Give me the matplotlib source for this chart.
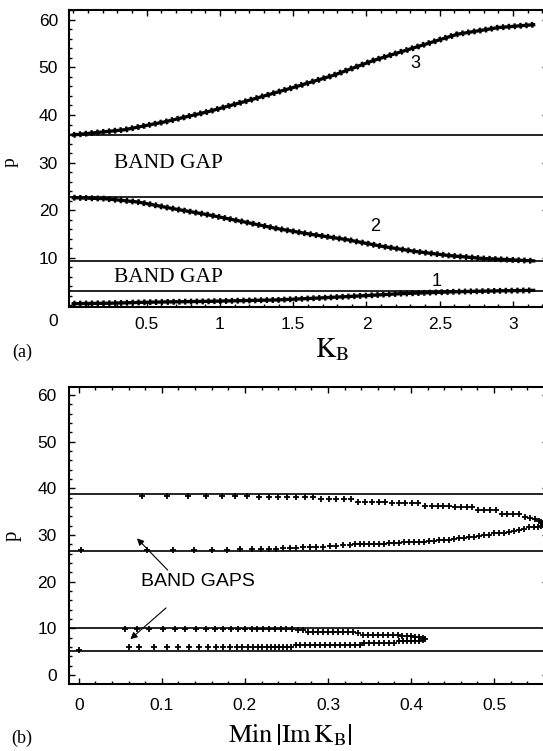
import matplotlib
matplotlib.use("Agg")
import matplotlib.pyplot as plt
from matplotlib.ticker import MultipleLocator

plt.rcParams['mathtext.fontset'] = 'stix'

# ---- (a) band structure p(K_B) ----
k1 = [0.0, 0.26, 0.50, 0.93, 1.40, 1.68, 2.00, 2.23, 2.59, 2.90, 3.14]
p1 = [0.3, 0.4, 0.6, 0.8, 1.1, 1.5, 2.0, 2.4, 2.8, 3.0, 3.1]

k2 = [0.0, 0.21, 0.44, 0.68, 0.92, 1.15, 1.39, 1.62, 1.86, 2.10, 2.33, 2.57, 2.80, 3.14]
p2 = [22.6, 22.4, 21.7, 20.3, 19.0, 17.6, 16.1, 14.9, 13.8, 12.4, 11.3, 10.4, 9.8, 9.3]

k3 = [0.0, 0.35, 0.63, 0.92, 1.20, 1.48, 1.77, 2.05, 2.33, 2.62, 2.90, 3.14]
p3 = [35.8, 36.9, 38.6, 40.7, 43.1, 45.6, 48.3, 51.5, 54.2, 57.0, 58.4, 59.0]

band_edges_a = [35.8, 22.7, 9.3, 3.0]

# ---- (b) Min|Im K_B| inside the gaps ----
# upper gap, upper branch then lower branch
g2_x = [0.076, 0.106, 0.132, 0.153, 0.172, 0.188, 0.203,
        0.217, 0.229, 0.240, 0.251, 0.262, 0.272, 0.282,
        0.292, 0.301, 0.310, 0.319, 0.328,
        0.336, 0.345, 0.353, 0.361, 0.369,
        0.377, 0.385, 0.393, 0.401, 0.409,
        0.417, 0.425, 0.432, 0.439, 0.446,
        0.453, 0.460, 0.467, 0.474,
        0.481, 0.488, 0.495, 0.502,
        0.509, 0.516, 0.523, 0.530,
        0.537, 0.543, 0.549, 0.554, 0.557, 0.559,
        0.559, 0.557, 0.553, 0.548, 0.542, 0.536, 0.530,
        0.524, 0.518, 0.512, 0.506, 0.500,
        0.494, 0.488, 0.482, 0.476, 0.470, 0.464, 0.458,
        0.452, 0.446, 0.440, 0.434, 0.428, 0.422,
        0.416, 0.410, 0.404, 0.398, 0.392, 0.386, 0.380, 0.374,
        0.368, 0.362, 0.356, 0.350, 0.344, 0.338, 0.332,
        0.326, 0.318, 0.310, 0.302, 0.294, 0.286, 0.278, 0.270, 0.262,
        0.254, 0.246, 0.238, 0.229, 0.219, 0.208, 0.194, 0.178, 0.160,
        0.139, 0.113, 0.082, 0.003]
g2_p = [38.4, 38.4, 38.4, 38.4, 38.4, 38.4, 38.4,
        38.1, 38.1, 38.1, 38.1, 38.1, 38.1, 38.1,
        37.7, 37.7, 37.7, 37.7, 37.7,
        37.2, 37.2, 37.2, 37.2, 37.2,
        36.8, 36.8, 36.8, 36.8, 36.8,
        36.3, 36.3, 36.3, 36.3, 36.3,
        36.0, 36.0, 36.0, 36.0,
        35.4, 35.4, 35.4, 35.4,
        34.6, 34.6, 34.6, 34.6,
        33.9, 33.6, 33.4, 33.1, 32.8, 32.5,
        32.2, 31.9, 31.8, 31.8, 31.7, 31.4, 31.1,
        30.9, 30.6, 30.4, 30.4, 30.4,
        30.0, 30.0, 29.8, 29.6, 29.6, 29.4, 29.3,
        29.1, 29.0, 29.0, 28.9, 28.8, 28.8,
        28.6, 28.6, 28.6, 28.6, 28.5, 28.4, 28.4, 28.3,
        28.2, 28.2, 28.1, 28.1, 28.1, 28.0, 28.0,
        27.9, 27.8, 27.7, 27.6, 27.5, 27.5, 27.5, 27.4, 27.3,
        27.2, 27.2, 27.1, 27.1, 27.0, 27.0, 27.0, 26.9, 26.9,
        26.9, 26.9, 26.8, 26.9]

# lower gap, upper branch then lower branch
g1_x = [0.055, 0.070, 0.085, 0.101, 0.116, 0.128, 0.141, 0.153, 0.164,
        0.174, 0.183, 0.192, 0.200, 0.208, 0.215, 0.222, 0.229, 0.236,
        0.243, 0.250, 0.257, 0.264, 0.270,
        0.276, 0.282, 0.288, 0.294, 0.300, 0.306, 0.312, 0.318, 0.324,
        0.330, 0.336,
        0.342, 0.348, 0.354, 0.360, 0.366, 0.372, 0.378, 0.384,
        0.389, 0.395, 0.400, 0.405, 0.410, 0.414, 0.417,
        0.414, 0.410, 0.405, 0.400, 0.395, 0.390, 0.385,
        0.380, 0.374, 0.368, 0.362, 0.356, 0.350, 0.344,
        0.338, 0.332, 0.326, 0.320, 0.314, 0.308, 0.302, 0.296, 0.290,
        0.284, 0.278, 0.272, 0.266, 0.261,
        0.256, 0.251, 0.246, 0.241, 0.236, 0.231, 0.226, 0.221, 0.216,
        0.210, 0.204, 0.197, 0.190, 0.182, 0.174, 0.165, 0.155, 0.145,
        0.133, 0.120, 0.106, 0.090, 0.073, 0.060, 0.000]
g1_p = [9.8, 9.8, 9.8, 9.8, 9.8, 9.8, 9.8, 9.8, 9.8,
        9.8, 9.8, 9.8, 9.8, 9.8, 9.8, 9.8, 9.8, 9.8,
        9.8, 9.8, 9.8, 9.7, 9.7,
        9.2, 9.2, 9.2, 9.2, 9.2, 9.2, 9.2, 9.2, 9.2,
        9.2, 9.1,
        8.7, 8.7, 8.7, 8.7, 8.7, 8.7, 8.6, 8.6,
        8.3, 8.3, 8.3, 8.2, 8.1, 8.0, 7.8,
        7.5, 7.4, 7.4, 7.4, 7.4, 7.4, 7.4,
        6.9, 6.9, 6.9, 6.9, 6.9, 6.9, 6.9,
        6.5, 6.5, 6.5, 6.5, 6.5, 6.5, 6.5, 6.5, 6.5,
        6.5, 6.5, 6.5, 6.5, 6.4,
        6.0, 6.0, 6.0, 6.0, 6.0, 6.0, 6.0, 6.0, 6.0,
        6.0, 6.0, 6.0, 6.0, 6.0, 6.0, 6.0, 6.0, 6.0,
        6.0, 6.0, 6.0, 6.0, 6.0, 6.0, 5.4]

band_edges_b = [38.8, 26.6, 10.1, 5.1]

W, H = 543, 751
fig = plt.figure(figsize=(W / 100, H / 100), dpi=100)


def px_axes(left, top, right, bottom):
    return fig.add_axes([left / W, 1 - bottom / H, (right - left) / W, (bottom - top) / H])


def style_frame(ax, xmaj, xmin, ymaj, ymin):
    for s in ax.spines.values():
        s.set_linewidth(1.5)
    ax.xaxis.set_major_locator(MultipleLocator(xmaj))
    ax.xaxis.set_minor_locator(MultipleLocator(xmin))
    ax.yaxis.set_major_locator(MultipleLocator(ymaj))
    ax.yaxis.set_minor_locator(MultipleLocator(ymin))
    ax.tick_params(which='both', direction='in', top=True, right=True, width=1)
    ax.tick_params(which='major', length=4)
    ax.tick_params(which='minor', length=2)


sans = 'Liberation Sans'
serif = 'Liberation Serif'

# ---------------- panel (a) ----------------
ax1 = px_axes(69, 9.5, 548, 307)
ax1.set_xlim(-0.029, 3.238)
ax1.set_ylim(-0.4, 62.2)
style_frame(ax1, 0.5, 0.1, 10, 2)
ax1.set_xticks([0.5, 1, 1.5, 2, 2.5, 3])
ax1.set_xticklabels(['0.5', '1', '1.5', '2', '2.5', '3'])
ax1.set_yticks([10, 20, 30, 40, 50, 60])
ax1.tick_params(axis='x', which='major', pad=7, labelsize=12.5)
ax1.tick_params(axis='y', which='major', pad=8, labelsize=12.5)
for lab in ax1.get_xticklabels() + ax1.get_yticklabels():
    lab.set_family(sans)
# shared origin label in the corner
ax1.text(-0.034, -0.05, '0', transform=ax1.transAxes, ha='center', va='center',
         fontsize=12.5, family=sans)

for y in band_edges_a:
    ax1.axhline(y, color='k', lw=1.2)
for k, p in [(k1, p1), (k2, p2), (k3, p3)]:
    ax1.plot(k, p, color='k', lw=4.2, ls=(0, (0.4, 0.6)), solid_capstyle='butt')
    ax1.plot(k, p, color='k', lw=2.4)

ax1.text(0.28, 29.9, 'BAND GAP', fontsize=15.5, family=serif, va='center')
ax1.text(0.28, 5.9, 'BAND GAP', fontsize=15.5, family=serif, va='center')
ax1.text(2.33, 50.8, '3', fontsize=13, family=sans, ha='center', va='center')
ax1.text(2.06, 16.6, '2', fontsize=13, family=sans, ha='center', va='center')
ax1.text(2.48, 5.0, '1', fontsize=13, family=sans, ha='center', va='center')
fig.text(10 / W, 1 - 162 / H, 'p', rotation=90, fontsize=14, family=serif,
         ha='center', va='center')

fig.text(22 / W, 1 - 352 / H, '(a)', fontsize=13, family=serif, ha='center', va='center')
fig.text(332 / W, 1 - 349 / H, r'$\mathrm{K}_{\mathrm{B}}$', fontsize=20, ha='center', va='center')

# ---------------- panel (b) ----------------
ax2 = px_axes(69.3, 386.7, 548, 684)
ax2.set_xlim(-0.0115, 0.565)
ax2.set_ylim(-1.9, 61.8)
style_frame(ax2, 0.1, 0.02, 10, 2)
ax2.set_xticks([0, 0.1, 0.2, 0.3, 0.4, 0.5])
ax2.set_xticklabels(['0', '0.1', '0.2', '0.3', '0.4', '0.5'])
ax2.tick_params(axis='x', which='major', pad=10, labelsize=12.5)
ax2.tick_params(axis='y', which='major', pad=9, labelsize=12.5)
for lab in ax2.get_xticklabels() + ax2.get_yticklabels():
    lab.set_family(sans)

for y in band_edges_b:
    ax2.axhline(y, color='k', lw=1.2)
ax2.plot(g2_x, g2_p, ls='none', marker='+', ms=4.5, mew=1.3, color='k')
ax2.plot(g1_x, g1_p, ls='none', marker='+', ms=4.5, mew=1.3, color='k')

ax2.text(0.143, 20, 'BAND GAPS', fontsize=14, family=sans, ha='center', va='center')
arrow = dict(arrowstyle='-|>', color='k', lw=0.8, mutation_scale=10, shrinkA=0, shrinkB=0)
ax2.annotate('', xy=(0.070, 29.3), xytext=(0.107, 22.5), arrowprops=arrow)
ax2.annotate('', xy=(0.062, 7.7), xytext=(0.105, 14.4), arrowprops=arrow)
ax2.set_ylabel('p', fontsize=15, family=serif)
ax2.yaxis.set_label_coords(-0.099, 0.5)

fig.text(22 / W, 1 - 738 / H, '(b)', fontsize=13, family=serif, ha='center', va='center')
fig.text(290 / W, 1 - 735 / H, r'$\mathrm{Min}\,\left|\mathrm{Im\,K}_{\mathrm{B}}\right|$',
         fontsize=19, ha='center', va='center')

fig.savefig('out.png', dpi=100)
